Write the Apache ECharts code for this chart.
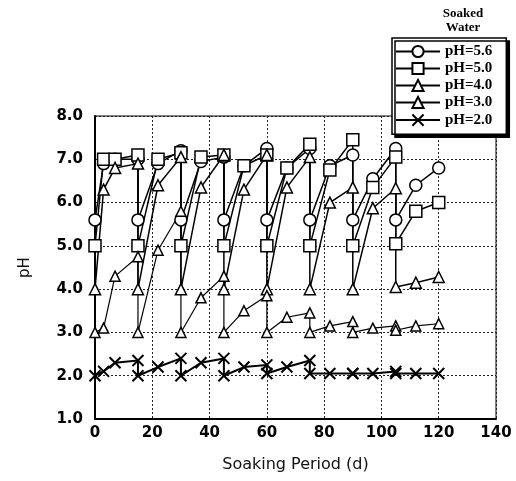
<!DOCTYPE html>
<html>
<head>
<meta charset="utf-8">
<script src="https://cdn.jsdelivr.net/npm/echarts@6/dist/echarts.min.js"></script>
<style>
html, body { margin: 0; padding: 0; background: #fff; }
#chart { width: 516px; height: 481px; }
</style>
</head>
<body>
<div id="chart"></div>
<script>
// soaking days; water renewed every 15 days, so each renewal day appears twice
var days = [0, 3, 7, 15, 15, 22, 30, 30, 37, 45, 45, 52, 60, 60, 67, 75, 75, 82, 90, 90, 97, 105, 105, 112, 120];

var ph56 = [5.6, 6.9, 7.0, 7.0, 5.6, 6.9, 7.2, 5.6, 6.95, 7.05, 5.6, 6.85, 7.25, 5.6, 6.8, 7.25, 5.6, 6.85, 7.1, 5.6, 6.55, 7.25, 5.6, 6.4, 6.8];
var ph50 = [5.0, 7.0, 7.0, 7.1, 5.0, 7.0, 7.15, 5.0, 7.05, 7.1, 5.0, 6.85, 7.1, 5.0, 6.8, 7.35, 5.0, 6.75, 7.45, 5.0, 6.35, 7.05, 5.05, 5.8, 6.0];
var ph40 = [4.0, 6.3, 6.8, 6.9, 4.0, 6.4, 7.05, 4.0, 6.35, 7.1, 4.0, 6.3, 7.1, 4.0, 6.35, 7.05, 4.0, 6.0, 6.35, 4.0, 5.87, 6.33, 4.05, 4.15, 4.28];
var ph30 = [3.0, 3.1, 4.3, 4.75, 3.0, 4.9, 5.8, 3.0, 3.8, 4.3, 3.0, 3.5, 3.85, 3.0, 3.35, 3.45, 3.0, 3.15, 3.25, 3.0, 3.1, 3.15, 3.05, 3.15, 3.2];
var ph20 = [2.0, 2.1, 2.3, 2.35, 2.0, 2.2, 2.4, 2.0, 2.3, 2.4, 2.0, 2.2, 2.25, 2.05, 2.2, 2.35, 2.05, 2.05, 2.05, 2.05, 2.05, 2.1, 2.05, 2.05, 2.05];

var names = ['pH=5.6', 'pH=5.0', 'pH=4.0', 'pH=3.0', 'pH=2.0'];

var pairs = function (ys) {
    var res = [];
    for (var i = 0; i < days.length; i++) {
        res.push([days[i], ys[i]]);
    }
    return res;
};

var cross = 'path://M0,0L10,10M10,0L0,10';

var mkSeries = function (name, ys, symbol, size, lw) {
    return {
        name: name,
        type: 'line',
        data: pairs(ys),
        symbol: symbol,
        symbolSize: size,
        showAllSymbol: true,
        lineStyle: { color: '#000', width: lw },
        itemStyle: {
            color: symbol === cross ? 'none' : '#fff',
            borderColor: '#000',
            borderWidth: symbol === cross ? 2 : 1.5
        },
        emphasis: { disabled: true },
        z: 3
    };
};

var myChart = echarts.init(document.getElementById('chart'));

var option = {
    backgroundColor: '#fff',
    animation: false,
    title: {
        text: 'Soaked\nWater',
        left: 458,
        top: 2,
        textAlign: 'center',
        textStyle: {
            fontFamily: 'Liberation Serif',
            fontWeight: 'bold',
            fontSize: 13,
            lineHeight: 14,
            color: '#000'
        }
    },
    legend: {
        data: names,
        orient: 'vertical',
        left: 392,
        top: 38,
        padding: [6, 14, 6, 3],
        itemWidth: 44,
        itemHeight: 14,
        itemGap: 2,
        itemTextGap: 2,
        backgroundColor: '#fff',
        borderColor: '#000',
        borderWidth: 1.5,
        shadowColor: '#000',
        shadowOffsetX: 3,
        shadowOffsetY: 3,
        shadowBlur: 0,
        z: 10,
        textStyle: {
            fontFamily: 'Liberation Serif',
            fontWeight: 'bold',
            fontSize: 15,
            color: '#000'
        }
    },
    grid: {
        left: 95,
        right: 20,
        top: 116,
        bottom: 62,
        show: true,
        borderColor: '#000',
        borderWidth: 1
    },
    xAxis: {
        type: 'value',
        min: 0,
        max: 140,
        interval: 20,
        name: 'Soaking Period (d)',
        nameLocation: 'middle',
        nameGap: 38,
        nameTextStyle: { fontFamily: 'DejaVu Sans', fontSize: 16, color: '#111' },
        axisLine: { lineStyle: { color: '#000', width: 2 } },
        axisTick: { show: false },
        axisLabel: {
            margin: 7,
            fontFamily: 'DejaVu Sans',
            fontWeight: 'bold',
            fontSize: 15,
            color: '#000'
        },
        splitLine: { lineStyle: { color: '#222', width: 1, type: [2, 2] } }
    },
    yAxis: {
        type: 'value',
        min: 1,
        max: 8,
        interval: 1,
        name: 'pH',
        nameLocation: 'middle',
        nameGap: 62,
        nameTextStyle: { fontFamily: 'DejaVu Sans', fontSize: 15, color: '#111' },
        axisLine: { show: true, lineStyle: { color: '#000', width: 2 } },
        axisTick: { show: false },
        axisLabel: {
            margin: 12,
            fontFamily: 'DejaVu Sans',
            fontWeight: 'bold',
            fontSize: 15,
            color: '#000',
            formatter: function (v) { return v.toFixed(1); }
        },
        splitLine: { lineStyle: { color: '#222', width: 1, type: [2, 2] } }
    },
    series: [
        mkSeries(names[0], ph56, 'circle', 12, 1.5),
        mkSeries(names[1], ph50, 'rect', 12, 1.5),
        mkSeries(names[2], ph40, 'triangle', 11, 1.5),
        mkSeries(names[3], ph30, 'triangle', 10, 1.2),
        mkSeries(names[4], ph20, cross, 11, 2)
    ]
};

myChart.setOption(option);
window.addEventListener('resize', function () {
    myChart.resize();
});
</script>
</body>
</html>
